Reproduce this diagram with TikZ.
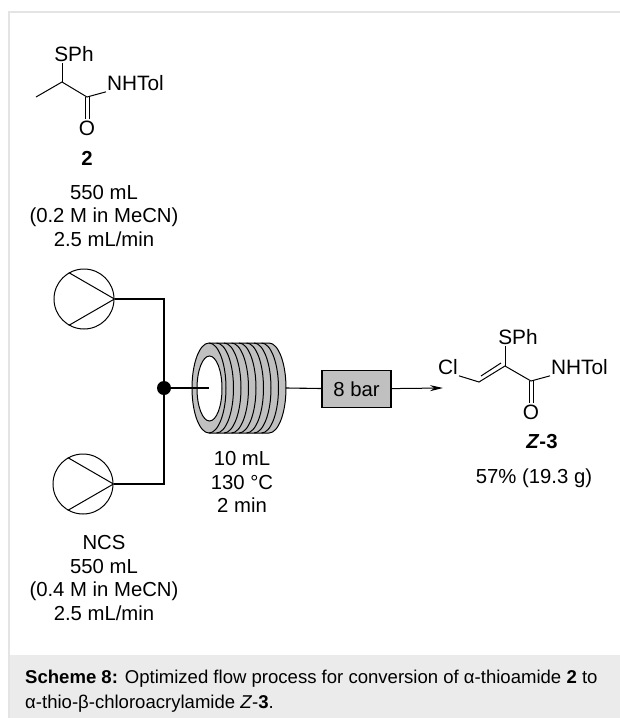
\documentclass[tikz,border=0pt]{standalone}
\usepackage{fontspec}
\setmainfont{Liberation Sans}
\usepackage{xcolor}
\usetikzlibrary{arrows.meta, calc}
\definecolor{coilgray}{HTML}{C0C0C0}
\definecolor{capgray}{HTML}{EBEBEB}
\definecolor{framegray}{HTML}{E4E4E4}
\tikzstyle{label} = [inner sep=1pt, font=\fontsize{20.3}{23.8}\selectfont, align=center]
\tikzstyle{atom} = [inner sep=1pt, font=\fontsize{20.8}{24}\selectfont]
\tikzstyle{pump} = [circle, draw=black, minimum size=60pt, inner sep=0pt, line width=1pt]
\tikzstyle{bond} = [line width=1pt]
\tikzstyle{tube} = [line width=1.1pt]
\tikzstyle{arrow} = [line width=1pt, -{Stealth[length=13pt,width=6pt]}]
\begin{document}
\begin{tikzpicture}[x=1pt, y=-1pt]
	\useasboundingbox (0,0) rectangle (620,718);
	\fill [capgray] (9,655) rectangle (620,718);
	\draw [framegray, line width=1.5pt] (9,718) -- (9,12) -- (620,12);

	% starting material
	\coordinate (ch) at (62,82);
	\coordinate (me) at (36,97);
	\coordinate (co) at (87,97);
	\node (sph) [atom] at (74,54) {SPh};
	\node (nhtol) [atom, anchor=west] at (106,83) {NHTol};
	\node (oxy) [atom] at (87,128) {O};
	\node (sm) [label] at (87,158) {\textbf{2}};
	\node (smdata) [label] at (104,216) {550 mL\\(0.2 M in MeCN)\\2.5 mL/min};
	\draw [bond] (ch) -- (sph.south -| ch);
	\draw [bond] (me) -- (ch) -- (co) -- (nhtol.south west);
	\draw [bond] ($(co)+(-2,0)$) -- ($(oxy.north)+(-2,0)$);
	\draw [bond] ($(co)+(2,0)$) -- ($(oxy.north)+(2,0)$);

	% pumps
	\node (pumpa) [pump] at (84,299) {};
	\node (pumpb) [pump] at (83,484) {};
	\draw [bond] (pumpa.120) -- (pumpa.east) -- (pumpa.240);
	\draw [bond] (pumpb.120) -- (pumpb.east) -- (pumpb.240);
	\node (ncsdata) [label] at (104,578) {NCS\\550 mL\\(0.4 M in MeCN)\\2.5 mL/min};

	% coil
	\coordinate (coilin) at (209,388);
	\coordinate (coilout) at (286,388);
	\fill [coilgray, draw=black, line width=1pt] (209,343) -- (269,343) arc (-90:90:17 and 45) -- (209,433) arc (90:270:17 and 45) -- cycle;
	\foreach \cx in {209,216.5,224,231.5,239,246.5,254,261.5}
		\draw [line width=1pt] (\cx,343) arc (-90:90:17 and 45);
	\draw [fill=white, line width=1pt] (209.5,388.5) ellipse (12.5 and 32.5);
	\node (coildata) [label] at (242,482) {10 mL\\130 °C\\2 min};

	% connectors
	\node (mix) [circle, fill=black, minimum size=14pt, inner sep=0pt] at (164,388) {};
	\draw [tube] (pumpa.east) -| (mix);
	\draw [tube] (pumpb.east) -| (mix);
	\draw [tube] (mix) -- (coilin);
	\node (bpr) [rectangle, draw=black, fill=coilgray, line width=1.2pt, minimum width=69pt, minimum height=37pt, inner sep=0pt, font=\fontsize{20.3}{23}\selectfont] at (356.5,389) {8 bar};
	\draw [tube] (coilout) -- (bpr);

	% product
	\coordinate (cha) at (479,382);
	\coordinate (chb) at (505,366);
	\coordinate (cc) at (531,381);
	\node (prodcl) [atom] at (448,367) {Cl};
	\node (prodsph) [atom] at (518,337) {SPh};
	\node (prodnh) [atom, anchor=west] at (550,367) {NHTol};
	\node (prodo) [atom] at (531,412) {O};
	\node (prodname) [label] at (542,442) {\textbf{\textit{Z}-3}};
	\node (prodyield) [label] at (534,478) {57\% (19.3 g)};
	\coordinate (arrowend) at (443,388);
	\draw [arrow] (bpr) -- (arrowend);
	\draw [bond] (prodcl.south east) -- (cha) -- (chb) -- (cc) -- (prodnh.south west);
	\draw [bond] ($(cha)+(2,-6)$) -- ($(chb)+(-4,-3)$);
	\draw [bond] (chb) -- (prodsph.south -| chb);
	\draw [bond] ($(cc)+(-2,0)$) -- ($(prodo.north)+(-2,0)$);
	\draw [bond] ($(cc)+(2,0)$) -- ($(prodo.north)+(2,0)$);

	% caption
	\node (caption) [anchor=north west, inner sep=0pt, align=left, font=\fontsize{18.55}{24.5}\selectfont] at (25,670) {\textbf{Scheme 8:} Optimized flow process for conversion of α-thioamide \textbf{2} to\\α-thio-β-chloroacrylamide \textit{Z}-\textbf{3}.};
\end{tikzpicture}
\end{document}
